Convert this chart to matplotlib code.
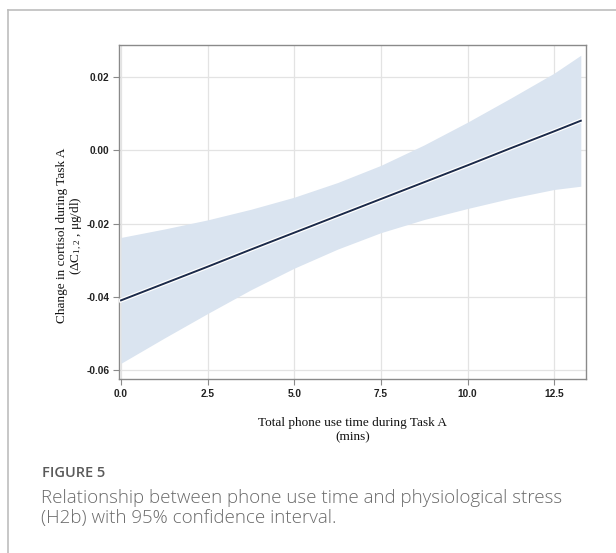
import matplotlib
matplotlib.use("Agg")
import matplotlib.pyplot as plt
import matplotlib.patheffects as pe
from matplotlib.lines import Line2D

plt.rcParams["mathtext.fontset"] = "custom"
plt.rcParams["mathtext.rm"] = "Liberation Serif"
plt.rcParams["mathtext.it"] = "Liberation Serif:italic"
plt.rcParams["mathtext.default"] = "rm"

# Data
x_vals = [0.0, 1.25, 2.5, 3.75, 5.0, 6.25, 7.5, 8.75, 10.0, 11.25, 12.5, 13.27]
fit_vals = [-0.0410, -0.0364, -0.0318, -0.0271, -0.0225, -0.0179, -0.0133,
            -0.0087, -0.0041, 0.0006, 0.0052, 0.0081]
upper_vals = [-0.0238, -0.0215, -0.0190, -0.0161, -0.0128, -0.0088, -0.0041,
              0.0015, 0.0077, 0.0143, 0.0211, 0.0260]
lower_vals = [-0.0582, -0.0513, -0.0446, -0.0381, -0.0322, -0.0270, -0.0225,
              -0.0189, -0.0159, -0.0131, -0.0107, -0.0098]
x_ticks = [0.0, 2.5, 5.0, 7.5, 10.0, 12.5]
x_tick_labels = ["0.0", "2.5", "5.0", "7.5", "10.0", "12.5"]
y_ticks = [-0.06, -0.04, -0.02, 0.00, 0.02]
y_tick_labels = ["-0.06", "-0.04", "-0.02", "0.00", "0.02"]

fig = plt.figure(figsize=(6.16, 5.53), dpi=100)
fig.patch.set_facecolor("white")

# outer frame (top and left lines)
fig.add_artist(Line2D([8/616, 1.0], [1-10/553, 1-10/553], transform=fig.transFigure,
                      color="#bdbdbd", lw=1.2))
fig.add_artist(Line2D([8/616, 8/616], [0.0, 1-10/553], transform=fig.transFigure,
                      color="#bdbdbd", lw=1.2))

ax = fig.add_axes([119.3/616, 1-379/553, (586-119.3)/616, (379-45)/553])
ax.set_xlim(-0.05, 13.42)
ax.set_ylim(-0.0625, 0.0288)

ax.fill_between(x_vals, lower_vals, upper_vals, color="#dae4f0", lw=0, zorder=2)
ax.plot(x_vals, fit_vals, color="#1b2a4a", lw=1.4, zorder=3,
        path_effects=[pe.Stroke(linewidth=3.2, foreground="white"), pe.Normal()])

ax.set_xticks(x_ticks)
ax.set_xticklabels(x_tick_labels)
ax.set_yticks(y_ticks)
ax.set_yticklabels(y_tick_labels)
ax.grid(True, color="#e3e3e3", lw=0.9, zorder=1)
ax.set_axisbelow(True)
for s in ax.spines.values():
    s.set_color("#8a8a8a")
    s.set_linewidth(1.0)
ax.tick_params(axis="both", direction="out", length=4, width=0.8, color="#8a8a8a",
               labelsize=7.3, pad=3)
for lab in ax.get_xticklabels() + ax.get_yticklabels():
    lab.set_fontfamily("Liberation Sans")
    lab.set_fontweight("bold")
    lab.set_color("#222222")

ax.set_xlabel("Total phone use time during Task A\n(mins)", family="Liberation Serif",
              fontsize=9.5, color="#111111", labelpad=13, linespacing=1.25)
ax.set_ylabel("Change in cortisol during Task A\n(ΔC$_{1,2}$ , μg/dl)", family="Liberation Serif",
              fontsize=9.5, color="#111111", labelpad=4, linespacing=1.15)
ax.yaxis.set_label_coords(-0.075, 0.43)

fig.text(42/616, 1-473/553, "FIGURE 5", family="Open Sans", fontweight="semibold",
         fontsize=10.5, color="#5a5a5a", va="center", ha="left")
fig.text(41/616, 1-508/553,
         "Relationship between phone use time and physiological stress\n(H2b) with 95% confidence interval.",
         family="Open Sans", fontweight="light", fontsize=13.5, color="#6a6a6a",
         va="center", ha="left", linespacing=1.2)

fig.savefig("out.png", dpi=100, facecolor="white")
